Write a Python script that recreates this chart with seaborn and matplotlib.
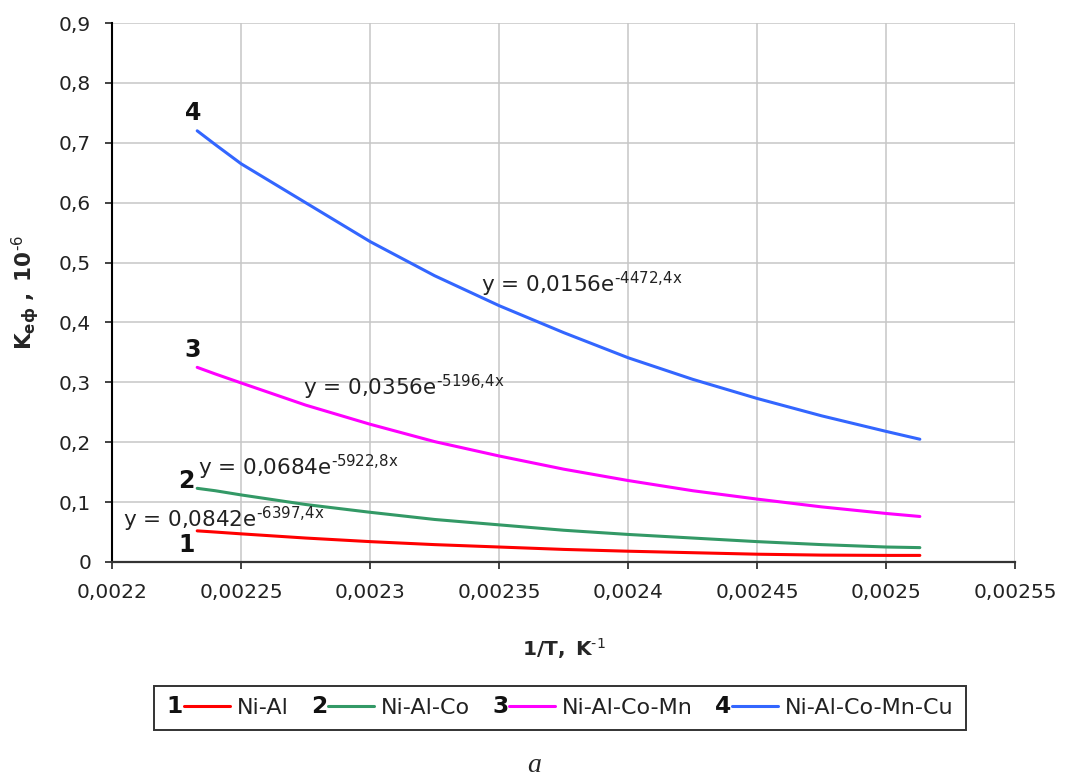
import numpy as np
import pandas as pd
import matplotlib
matplotlib.use("Agg")
import matplotlib.pyplot as plt
import seaborn as sns
from matplotlib.lines import Line2D
from matplotlib.text import Text
from matplotlib.legend_handler import HandlerBase
from matplotlib.ticker import FuncFormatter

# values (1/T, K^-1  ->  K_eff, 10^-6)
inv_t = [0.002233, 0.00224, 0.00225, 0.002275, 0.0023, 0.002325, 0.00235, 0.002375,
         0.0024, 0.002425, 0.00245, 0.002475, 0.0025, 0.002513]
ni_al = [0.052, 0.050, 0.047, 0.040, 0.034, 0.029, 0.025, 0.021,
         0.018, 0.0155, 0.013, 0.0115, 0.011, 0.011]
ni_al_co = [0.123, 0.119, 0.112, 0.096, 0.083, 0.071, 0.062, 0.053,
            0.046, 0.040, 0.034, 0.029, 0.025, 0.024]
ni_al_co_mn = [0.325, 0.314, 0.299, 0.262, 0.230, 0.201, 0.177, 0.155,
               0.136, 0.119, 0.105, 0.092, 0.081, 0.076]
ni_al_co_mn_cu = [0.720, 0.697, 0.665, 0.600, 0.535, 0.478, 0.428, 0.383,
                  0.341, 0.305, 0.273, 0.244, 0.218, 0.205]

series_names = ["Ni-Al", "Ni-Al-Co", "Ni-Al-Co-Mn", "Ni-Al-Co-Mn-Cu"]
series_nums = ["1", "2", "3", "4"]
series_colors = ["#ff0000", "#339966", "#ff00ff", "#3366ff"]
equations = [r"y = 0,0842e$^{\text{-6397,4x}}$", r"y = 0,0684e$^{\text{-5922,8x}}$",
             r"y = 0,0356e$^{\text{-5196,4x}}$", r"y = 0,0156e$^{\text{-4472,4x}}$"]

x_ticks = [0.0022, 0.00225, 0.0023, 0.00235, 0.0024, 0.00245, 0.0025, 0.00255]
y_ticks = [0, 0.1, 0.2, 0.3, 0.4, 0.5, 0.6, 0.7, 0.8, 0.9]

df = pd.DataFrame({
    "x": inv_t * 4,
    "y": ni_al + ni_al_co + ni_al_co_mn + ni_al_co_mn_cu,
    "alloy": [n for n in series_names for _ in inv_t],
})

sns.set_theme(style="white")
plt.rcParams["font.family"] = ["DejaVu Sans"]
plt.rcParams["mathtext.default"] = "regular"

fig = plt.figure(figsize=(10.69, 7.80), dpi=100)
ax = fig.add_axes([0.1048, 0.2795, 0.845, 0.691])

sns.lineplot(data=df, x="x", y="y", hue="alloy", hue_order=series_names,
             palette=dict(zip(series_names, series_colors)),
             linewidth=2.2, legend=False, ax=ax, sort=False)

ax.set_xlim(0.0022, 0.00255)
ax.set_ylim(0, 0.9)
ax.set_xticks(x_ticks)
ax.set_yticks(y_ticks)
comma = FuncFormatter(lambda v, p: f"{v:g}".replace(".", ","))
ax.xaxis.set_major_formatter(comma)
ax.yaxis.set_major_formatter(comma)
ax.grid(True, color="#c6c6c6", linewidth=1.1)
ax.set_axisbelow(True)

for s in ["top", "right"]:
    ax.spines[s].set_visible(False)
ax.spines["left"].set_color("black")
ax.spines["left"].set_linewidth(1.5)
ax.spines["bottom"].set_color("#333333")
ax.spines["bottom"].set_linewidth(1.6)
ax.tick_params(axis="both", which="major", direction="out", length=5,
               width=1.2, color="#222222", labelsize=14.5, pad=10,
               labelcolor="#222222")
ax.tick_params(axis="y", left=True)
ax.tick_params(axis="x", bottom=True)

ax.set_xlabel(r"$\mathbf{1/T,\ K}^{\text{-1}}$", fontsize=14.5)
ax.xaxis.set_label_coords(0.5, -0.138)
ax.xaxis.label.set_va("top")
ax.set_ylabel(r"$\mathbf{K_{еф}\ ,\ 10}^{\text{-6}}$", fontsize=15.5)
ax.yaxis.set_label_coords(-0.079, 0.5)

# curve numbers
num_pos = [(0.0022287, 0.028), (0.0022287, 0.135), (0.0022314, 0.354), (0.0022314, 0.75)]
for (nx, ny), n in zip(num_pos, series_nums):
    ax.text(nx, ny, n, fontsize=17, fontweight="bold", ha="center", va="center",
            color="#111111")

# trendline equations
eq_pos = [(0.0022043, 0.058), (0.0022333, 0.145), (0.002274, 0.279), (0.002343, 0.451)]
for (ex, ey), eq in zip(eq_pos, equations):
    ax.text(ex, ey, eq, fontsize=15.5, ha="left", va="baseline", color="#222222")


class NumberedHandler(HandlerBase):
    def __init__(self, num):
        super().__init__()
        self.num = num

    def create_artists(self, legend, orig_handle, xdescent, ydescent,
                       width, height, fontsize, trans):
        y = (height - ydescent) / 2.0
        x0 = -xdescent
        t = Text(x0, y, self.num, fontsize=fontsize * 1.05, fontweight="bold",
                 ha="left", va="center", color="#111111", transform=trans)
        ln = Line2D([x0 + 0.78 * fontsize, x0 + width], [y, y],
                    color=orig_handle.get_color(), linewidth=2.2, transform=trans)
        return [t, ln]


handles = [Line2D([], [], color=c, linewidth=2.2) for c in series_colors]
leg = fig.legend(handles, series_names, ncol=4, loc="center",
                 bbox_to_anchor=(0.524, 0.0923), fontsize=16,
                 handlelength=2.85, handletextpad=0.3, columnspacing=1.0,
                 borderpad=0.55, frameon=True, fancybox=False,
                 handler_map={h: NumberedHandler(n) for h, n in zip(handles, series_nums)})
leg.get_frame().set_edgecolor("black")
leg.get_frame().set_linewidth(1.4)
for t in leg.get_texts():
    t.set_color("#222222")

fig.text(534 / 1069, 1 - 765 / 780, "a", family="Liberation Serif",
         style="italic", fontsize=20, ha="center", va="center")

fig.savefig("out.png", dpi=100)
